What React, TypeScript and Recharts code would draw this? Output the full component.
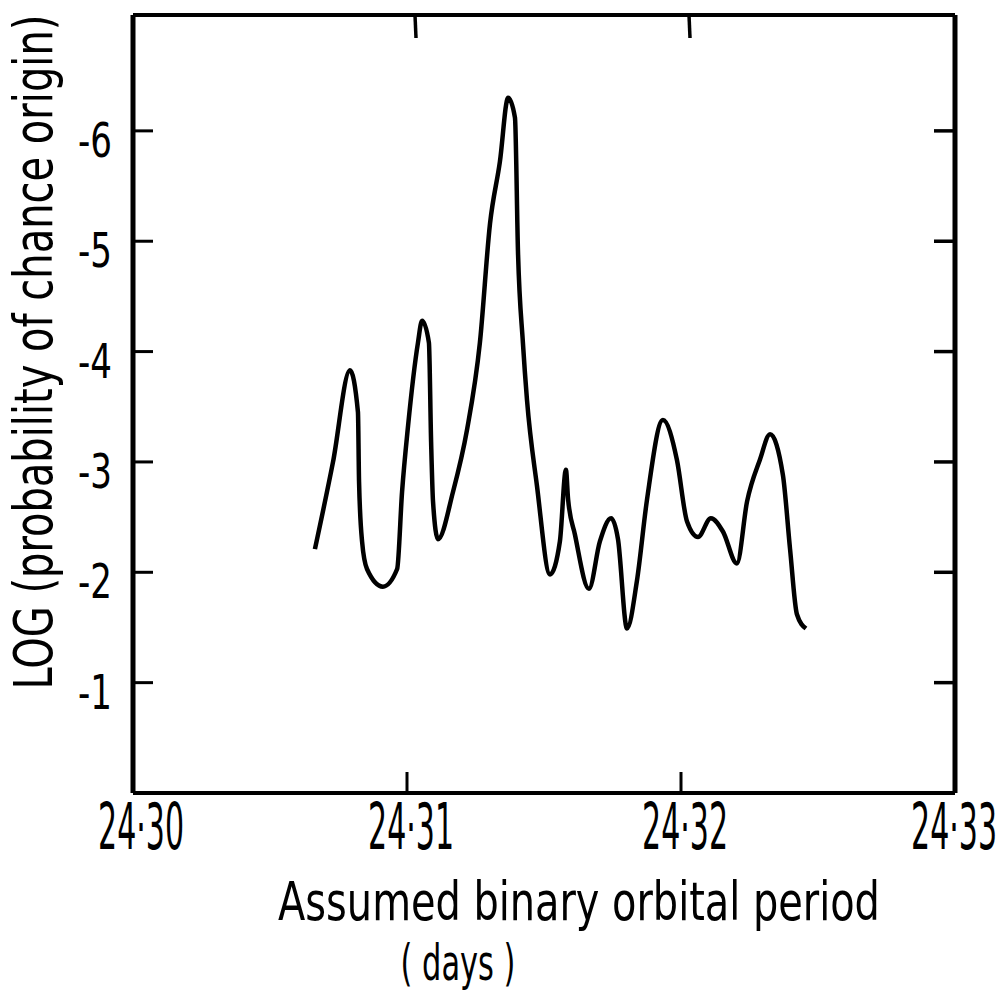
import { LineChart, Line, XAxis, YAxis, Label } from 'recharts'

// assumed orbital period (days) and log probability
const periods = [
  24.30664, 24.3073, 24.30792, 24.30821, 24.30825, 24.30836, 24.30854, 24.30912, 24.30964, 24.30982,
  24.31004, 24.3104, 24.31055, 24.3108, 24.31088, 24.31095, 24.31113, 24.31168, 24.31219, 24.31266,
  24.31303, 24.31339, 24.31369, 24.31394, 24.31405, 24.31423, 24.31438, 24.31474, 24.31522, 24.31558,
  24.3158, 24.31588, 24.31613, 24.31664, 24.31704, 24.31745, 24.3177, 24.31803, 24.31839, 24.31876,
  24.31934, 24.31985, 24.32022, 24.32062, 24.32109, 24.32153, 24.32204, 24.32241, 24.32288, 24.32325,
  24.32372, 24.32398, 24.32423, 24.32456,
]
const logProb = [
  -2.21, -3.0, -3.83, -3.45, -2.82, -2.28, -2.03, -1.87, -2.03, -2.73,
  -3.33, -4.08, -4.28, -4.08, -3.18, -2.64, -2.3, -2.73, -3.29, -4.08,
  -5.16, -5.72, -6.3, -6.12, -4.91, -4.08, -3.56, -2.79, -1.98, -2.28,
  -2.93, -2.66, -2.34, -1.85, -2.28, -2.49, -2.3, -1.49, -1.92, -2.66,
  -3.38, -3.02, -2.46, -2.32, -2.49, -2.37, -2.08, -2.64, -3.02, -3.25,
  -2.88, -2.21, -1.62, -1.49,
]

const xTicks = [24.3, 24.31, 24.32, 24.33]
const xTickLabels = ['24·30', '24·31', '24·32', '24·33']
const yTicks = [-1, -2, -3, -4, -5, -6]
const yTickLabels = ['-1', '-2', '-3', '-4', '-5', '-6']
const xTitle = 'Assumed binary orbital period'
const xUnit = '( days )'
const yTitle = 'LOG (probability of chance origin)'

const data = periods.map((p, i) => ({ period: p, logP: logProb[i] }))

const FONT = '"DejaVu Sans Condensed", "DejaVu Sans", sans-serif'
const INK = '#000'

// the lettering in the original is tall and narrow, so squeeze a normal font to the measured width
const ctx = document.createElement('canvas').getContext('2d')
function squeeze(text: string, size: number, width: number) {
  if (!ctx) return 1
  ctx.font = `${size}px ${FONT}`
  const w = ctx.measureText(text).width
  return w > 0 ? width / w : 1
}

function NarrowText({ x, y, text, size, width, anchor = 'middle', rotate = false }: any) {
  const s = squeeze(text, size, width)
  return (
    <text
      transform={`translate(${x},${y})${rotate ? ' rotate(-90)' : ''} scale(${s},1)`}
      textAnchor={anchor}
      fontFamily={FONT}
      fontSize={size}
      fill={INK}
    >
      {text}
    </text>
  )
}

function XTick({ x, y, index }: any) {
  const inner = index > 0 && index < xTicks.length - 1
  const cx = Math.min(Math.max(x + 4, 141), 954)
  return (
    <g>
      {inner && <line x1={x} y1={y} x2={x} y2={y - 21} stroke={INK} strokeWidth={3} />}
      <NarrowText x={cx} y={y + 56} text={xTickLabels[index]} size={64} width={86} />
    </g>
  )
}

function TopTick({ x, y, index }: any) {
  if (index === 0 || index === xTicks.length - 1) return <g />
  return <line x1={x + 8} y1={y} x2={x + 9} y2={y + 23} stroke={INK} strokeWidth={3.5} />
}

function YTick({ x, y, index }: any) {
  return (
    <g>
      <line x1={x} y1={y} x2={x + 20} y2={y} stroke={INK} strokeWidth={3} />
      <NarrowText x={x - 21} y={y + 26} text={yTickLabels[index]} size={48} width={34} anchor="end" />
    </g>
  )
}

function RightTick({ x, y }: any) {
  return <line x1={x} y1={y} x2={x - 21} y2={y} stroke={INK} strokeWidth={3.5} />
}

function XTitle() {
  return (
    <g>
      <NarrowText x={579} y={920} text={xTitle} size={54} width={602} />
      <NarrowText x={458} y={980} text={xUnit} size={50} width={115} />
    </g>
  )
}

function YTitle() {
  return <NarrowText x={52} y={352} text={yTitle} size={53} width={675} rotate />
}

export default function App() {
  return (
    <div style={{ position: 'absolute', left: 0, top: 0, width: 1003, height: 994, background: '#fff' }}>
      <LineChart width={1003} height={994} data={data} margin={{ top: 14, right: 47, left: 0, bottom: 0 }}>
        <XAxis
          dataKey="period"
          type="number"
          domain={[24.3, 24.33]}
          ticks={xTicks}
          allowDataOverflow
          height={201}
          axisLine={{ stroke: INK, strokeWidth: 4 }}
          tickLine={false}
          tickSize={0}
          tickMargin={0}
          tick={<XTick />}
        >
          <Label content={<XTitle />} />
        </XAxis>
        <XAxis
          xAxisId="top"
          orientation="top"
          dataKey="period"
          type="number"
          domain={[24.3, 24.33]}
          ticks={xTicks}
          allowDataOverflow
          height={1}
          axisLine={{ stroke: INK, strokeWidth: 4 }}
          tickLine={false}
          tickSize={0}
          tickMargin={0}
          tick={<TopTick />}
        />
        <YAxis
          type="number"
          domain={[-7.05, 0]}
          reversed
          ticks={yTicks}
          allowDataOverflow
          width={133}
          axisLine={{ stroke: INK, strokeWidth: 5 }}
          tickLine={false}
          tickSize={0}
          tickMargin={0}
          tick={<YTick />}
        >
          <Label content={<YTitle />} />
        </YAxis>
        <YAxis
          yAxisId="right"
          orientation="right"
          type="number"
          domain={[-7.05, 0]}
          reversed
          ticks={yTicks}
          allowDataOverflow
          width={1}
          axisLine={{ stroke: INK, strokeWidth: 5 }}
          tickLine={false}
          tickSize={0}
          tickMargin={0}
          tick={<RightTick />}
        />
        <Line
          dataKey="logP"
          type="monotone"
          stroke={INK}
          strokeWidth={4.5}
          dot={false}
          isAnimationActive={false}
        />
        <Line
          xAxisId="top"
          yAxisId="right"
          dataKey="logP"
          stroke="transparent"
          dot={false}
          activeDot={false}
          legendType="none"
          isAnimationActive={false}
        />
      </LineChart>
    </div>
  )
}
